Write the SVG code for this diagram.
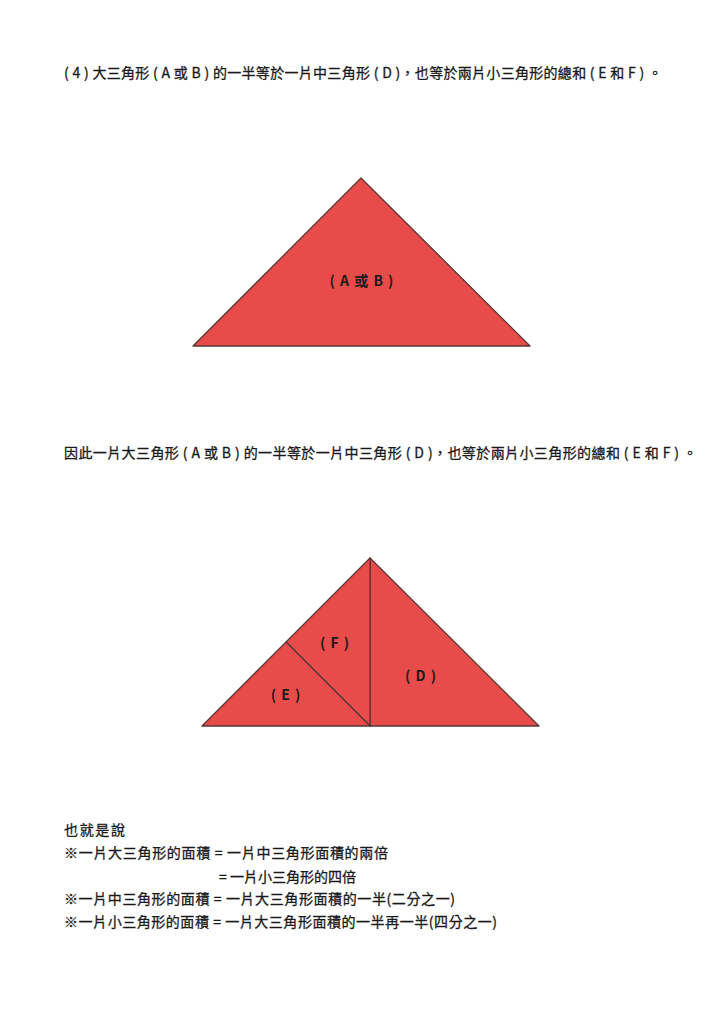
<svg xmlns="http://www.w3.org/2000/svg" width="724" height="1024" viewBox="0 0 724 1024">
<style>
text{font-family:"Noto Sans CJK TC","Noto Sans",sans-serif;font-size:14px;font-weight:normal;fill:#1a1a1a;stroke:#1a1a1a;stroke-width:0.3}
.lbl{font-size:14px;font-weight:bold;text-anchor:middle;letter-spacing:1px;stroke:none}
.tri{fill:#E84C4A;stroke:#5a3535;stroke-width:1.3;stroke-linejoin:round}
</style>
<rect width="724" height="1024" fill="#fff"/>
<text x="64" y="78" textLength="598" lengthAdjust="spacing">( 4 ) 大三角形 ( A 或 B ) 的一半等於一片中三角形 ( D )，也等於兩片小三角形的總和 ( E 和 F ) 。</text>
<g id="big">
<polygon class="tri" points="361,178 530,346 193,346"/>
<text class="lbl" x="362" y="286">( A 或 B )</text>
</g>
<text x="64" y="458" textLength="633" lengthAdjust="spacing">因此一片大三角形 ( A 或 B ) 的一半等於一片中三角形 ( D )，也等於兩片小三角形的總和 ( E 和 F ) 。</text>
<g id="D">
<polygon class="tri" points="370,558 539,726 370,726"/>
<text class="lbl" x="421" y="681">( D )</text>
</g>
<g id="F">
<polygon class="tri" points="370,558 370,726 286,642"/>
<text class="lbl" x="335" y="648">( F )</text>
</g>
<g id="E">
<polygon class="tri" points="286,642 370,726 202,726"/>
<text class="lbl" x="286" y="700">( E )</text>
</g>
<g id="notes">
<text x="64" y="835" textLength="61" lengthAdjust="spacing">也就是說</text>
<text x="64" y="858" textLength="324" lengthAdjust="spacing">※一片大三角形的面積 = 一片中三角形面積的兩倍</text>
<text x="219" y="882">= <tspan x="230">一片小三角形的四倍</tspan></text>
<text x="64" y="904" textLength="391" lengthAdjust="spacing">※一片中三角形的面積 = 一片大三角形面積的一半(二分之一)</text>
<text x="64" y="927" textLength="433" lengthAdjust="spacing">※一片小三角形的面積 = 一片大三角形面積的一半再一半(四分之一)</text>
</g>
</svg>
